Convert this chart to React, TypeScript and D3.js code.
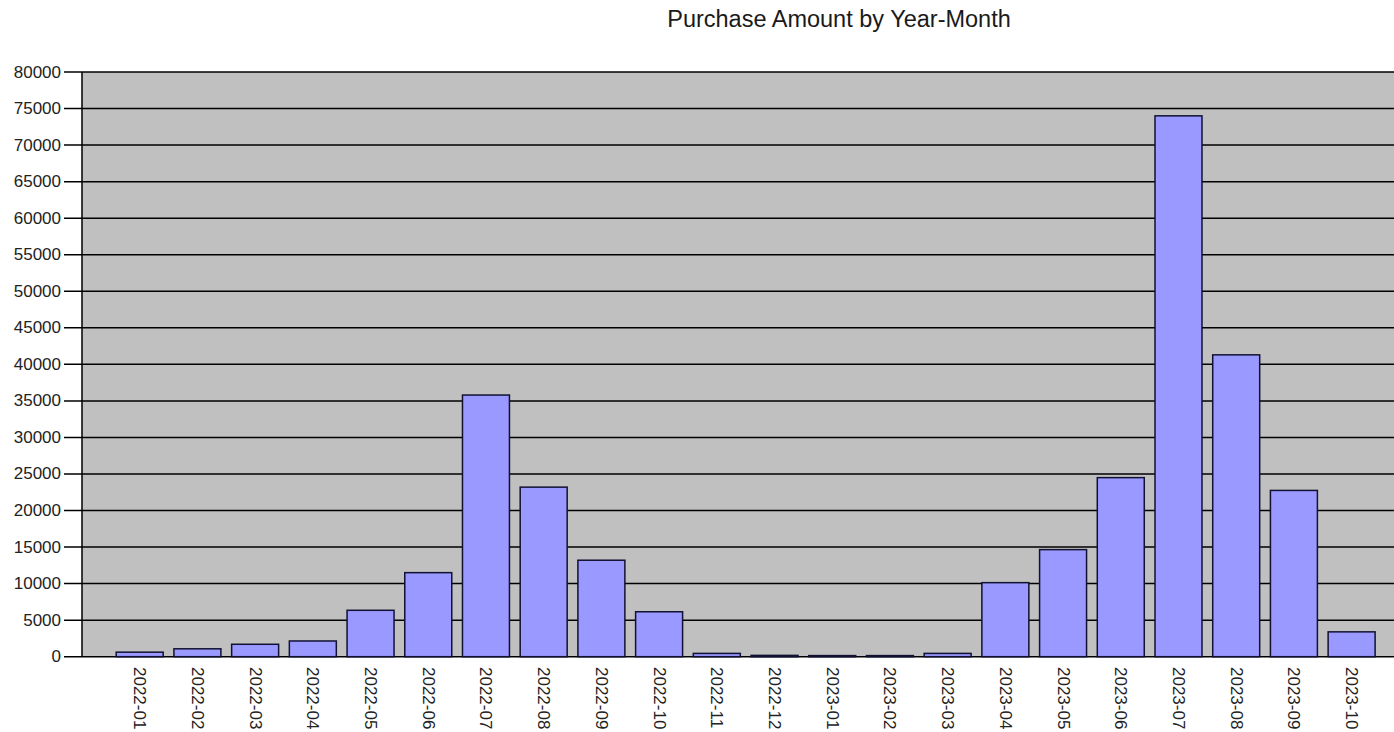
import React from "react";
import * as d3 from "d3";

const categories = [
  "2022-01", "2022-02", "2022-03", "2022-04", "2022-05", "2022-06", "2022-07", "2022-08",
  "2022-09", "2022-10", "2022-11", "2022-12", "2023-01", "2023-02", "2023-03", "2023-04",
  "2023-05", "2023-06", "2023-07", "2023-08", "2023-09", "2023-10",
];
const amounts = [
  620, 1080, 1700, 2150, 6350, 11500, 35800, 23200,
  13200, 6150, 450, 180, 150, 150, 450, 10130,
  14650, 24500, 74000, 41300, 22750, 3400,
];
const yTicks = [0, 5000, 10000, 15000, 20000, 25000, 30000, 35000, 40000, 45000, 50000, 55000, 60000, 65000, 70000, 75000, 80000];
const title = "Purchase Amount by Year-Month";

const W = 1394;
const H = 732;
const plotLeft = 82;
const plotTop = 72;
const plotBottom = 656.7;
const step = 57.71;

export default function App() {
  const y = d3.scaleLinear().domain([0, 80000]).range([plotBottom, plotTop]);
  const x = d3
    .scaleBand<string>()
    .domain(categories)
    .range([plotLeft + step / 2, plotLeft + step / 2 + step * categories.length])
    .paddingInner(0.186)
    .paddingOuter(0.093);
  const font = "'Liberation Sans', Arial, sans-serif";

  return (
    <svg width={W} height={H} style={{ position: "absolute", left: 0, top: 0, background: "#fff" }}>
      <text x={839} y={27} textAnchor="middle" fontFamily={font} fontSize={23.5} fill="#1a1a1a">
        {title}
      </text>
      <rect x={plotLeft} y={plotTop} width={W - plotLeft + 20} height={plotBottom - plotTop} fill="#c0c0c0" />
      {yTicks.map((t) => (
        <g key={t}>
          <line x1={64} x2={W + 10} y1={y(t)} y2={y(t)} stroke="#000" strokeWidth={1.5} />
          <text
            x={61}
            y={y(t)}
            textAnchor="end"
            dominantBaseline="central"
            fontFamily={font}
            fontSize={17}
            fill="#222"
          >
            {t}
          </text>
        </g>
      ))}
      <line x1={plotLeft} x2={plotLeft} y1={plotTop} y2={plotBottom} stroke="#000" strokeWidth={1.5} />
      {categories.map((c, i) => (
        <rect
          key={c}
          x={x(c)}
          y={y(amounts[i])}
          width={x.bandwidth()}
          height={plotBottom - y(amounts[i])}
          fill="#9999ff"
          stroke="#111133"
          strokeWidth={1.5}
        />
      ))}
      {categories.map((c) => (
        <text
          key={"l" + c}
          transform={`translate(${(x(c) as number) + x.bandwidth() / 2},667) rotate(90)`}
          textAnchor="start"
          dominantBaseline="central"
          fontFamily={font}
          fontSize={17}
          fill="#222"
        >
          {c}
        </text>
      ))}
    </svg>
  );
}
